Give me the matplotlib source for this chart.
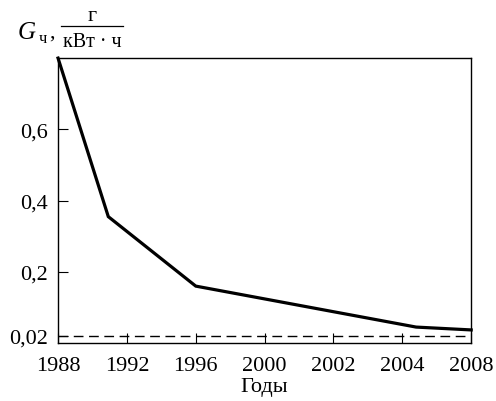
import matplotlib

matplotlib.use("Agg")
import matplotlib.pyplot as plt
from matplotlib.lines import Line2D

plt.rcParams["font.family"] = ["Liberation Serif", "DejaVu Serif"]

# Year labels sit on an evenly spaced axis, whatever the gap in years
years = ["1988", "1992", "1996", "2000", "2002", "2004", "2008"]
# Specific emission: positions along that axis and values, g/(kW*h)
curve_pos = [0.0, 0.73, 2.0, 5.2, 6.0]
curve_g = [0.80, 0.355, 0.16, 0.045, 0.037]
# Target level
norm_g = 0.02
y_ticks = [0.02, 0.2, 0.4, 0.6]
y_labels = ["0,02", "0,2", "0,4", "0,6"]

fig = plt.figure(figsize=(4.96, 4.02), dpi=100)
ax = fig.add_axes([0.117, 0.144, 0.833, 0.709])

ax.plot(curve_pos, curve_g, color="black", linewidth=2.3,
        solid_joinstyle="miter", clip_on=False)
ax.axhline(norm_g, color="black", linewidth=1.0, linestyle=(0, (7, 4)))

ax.set_xlim(0, len(years) - 1)
ax.set_ylim(0, 0.8)
ax.set_xticks(range(len(years)))
ax.set_xticklabels(years)
ax.set_yticks(y_ticks)
ax.set_yticklabels(y_labels)
ax.tick_params(direction="in", length=7, width=0.8, labelsize=16,
               colors="black", pad=7)
ax.tick_params(axis="x", pad=9)
for spine in ax.spines.values():
    spine.set_linewidth(1.0)

ax.set_xlabel("Годы", fontsize=16, labelpad=2)

# Axis name with units written as a fraction
fig.text(18 / 496, 1 - 39 / 402, "G", fontsize=18, style="italic",
         ha="left", va="baseline")
fig.text(39 / 496, 1 - 43 / 402, "ч", fontsize=12, ha="left",
         va="baseline")
fig.text(49 / 496, 1 - 38 / 402, ",", fontsize=16, ha="left",
         va="baseline")
fig.text(92 / 496, 1 - 21 / 402, "г", fontsize=16, ha="center",
         va="baseline")
fig.text(92 / 496, 1 - 47 / 402, "кВт · ч", fontsize=14.5, ha="center",
         va="baseline")
fig.add_artist(Line2D([61 / 496, 123 / 496], [1 - 27 / 402, 1 - 27 / 402],
                      color="black", linewidth=0.9,
                      transform=fig.transFigure))

fig.savefig("out.png", dpi=100)
